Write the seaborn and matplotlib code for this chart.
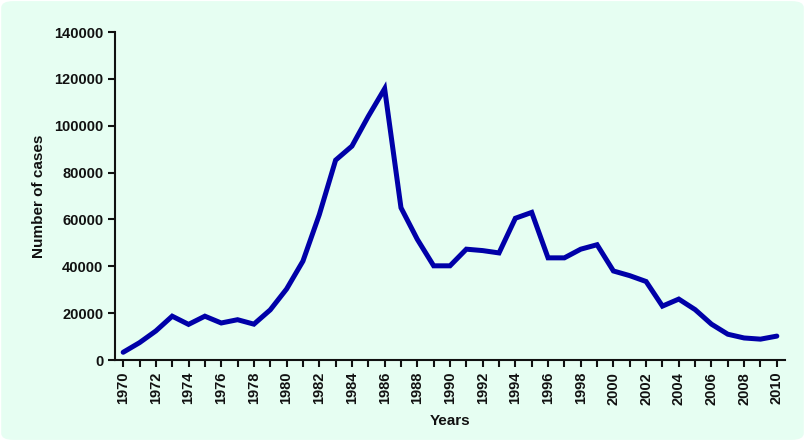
import numpy as np
import pandas as pd
import matplotlib
matplotlib.use("Agg")
import matplotlib.pyplot as plt
from matplotlib.patches import FancyBboxPatch
import seaborn as sns

years = list(range(1970, 2011))
cases = [3300, 7400, 12400, 18700, 15200, 18700, 15800, 17200, 15300, 21400,
         30300, 42200, 62000, 85300, 91300, 104000, 115800, 65000, 51500, 40200,
         40200, 47300, 46700, 45700, 60500, 63000, 43600, 43600, 47300, 49200,
         38000, 36000, 33500, 23000, 26000, 21500, 15300, 11000, 9400, 8900,
         10200]

df = pd.DataFrame({"year": years, "cases": cases})

sns.set_style("ticks")
plt.rcParams["font.family"] = ["Liberation Sans", "DejaVu Sans"]
plt.rcParams["font.weight"] = "bold"

bg = "#E6FEF2"
fig = plt.figure(figsize=(8.05, 4.41), dpi=100)
fig.patch.set_facecolor("white")
# rounded panel background, kept behind the axes
panel = FancyBboxPatch((0.0015, 0.0025), 0.997, 0.995,
                       boxstyle="round,pad=0,rounding_size=0.015",
                       transform=fig.transFigure, facecolor=bg,
                       edgecolor="none", zorder=-10)
fig.patches.append(panel)

ax = fig.add_axes([115 / 805, 1 - 360 / 441, 670 / 805, 328 / 441])
ax.set_zorder(5)
ax.set_facecolor("none")

sns.lineplot(data=df, x="year", y="cases", ax=ax, color="#0000A8",
             linewidth=3.6, solid_joinstyle="miter")

ax.set_xlim(1969.5, 2010.5)
ax.set_ylim(0, 140000)
ax.set_yticks(range(0, 140001, 20000))
ax.set_xticks(years)
ax.set_xticklabels([str(y) if y % 2 == 0 else "" for y in years],
                   rotation=90, fontsize=10.5, fontweight="bold")
ax.set_yticklabels([str(v) for v in range(0, 140001, 20000)],
                   fontsize=10.5, fontweight="bold")
ax.tick_params(axis="both", direction="out", length=5, width=1.5,
               color="#111111", labelcolor="#111111")

for s in ["top", "right"]:
    ax.spines[s].set_visible(False)
for s in ["left", "bottom"]:
    ax.spines[s].set_linewidth(1.5)
    ax.spines[s].set_color("#111111")

ax.set_xlabel("Years", fontsize=11, fontweight="bold", color="#111111",
              labelpad=7)
ax.set_ylabel("Number of cases", fontsize=11, fontweight="bold",
              color="#111111", labelpad=6)

fig.savefig("out.png", dpi=100, facecolor=fig.get_facecolor())
